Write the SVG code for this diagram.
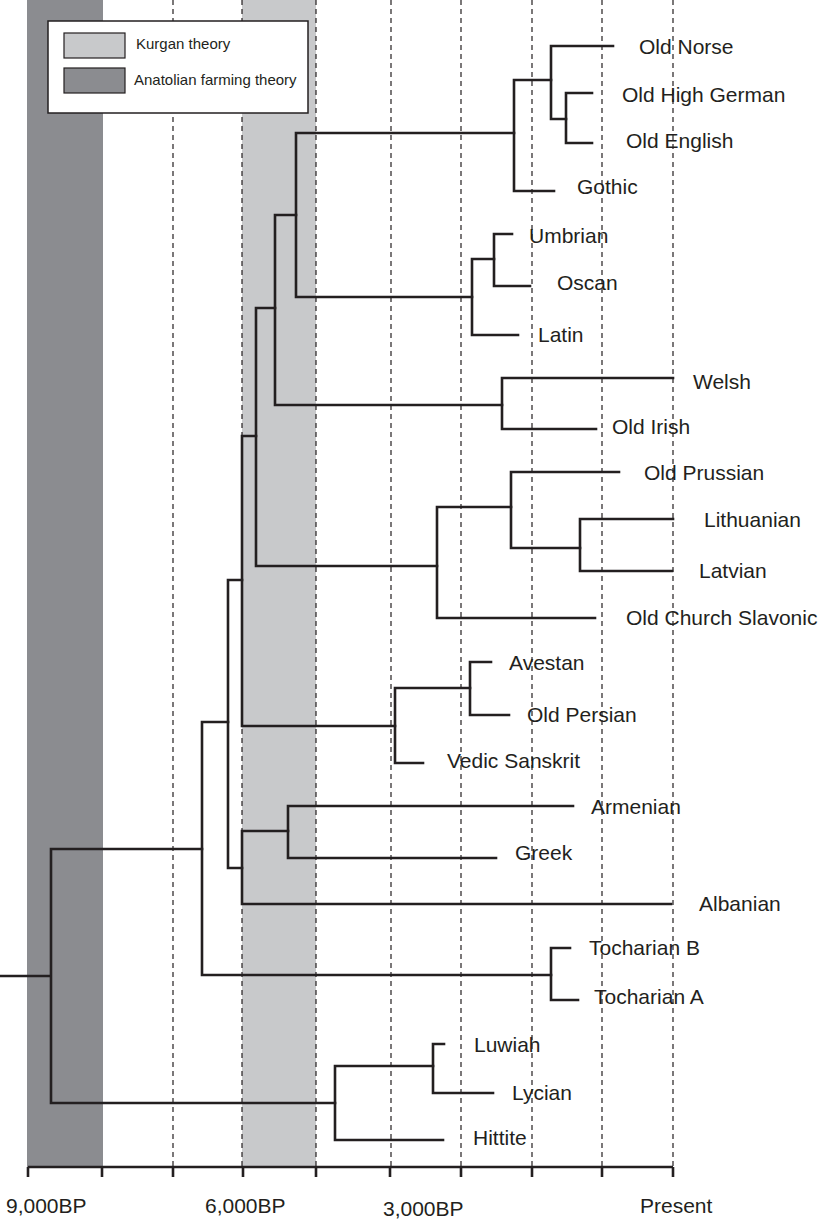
<svg xmlns="http://www.w3.org/2000/svg" width="822" height="1219" viewBox="0 0 822 1219">
<style>
.lbl{font-family:"Liberation Sans",Arial,sans-serif;font-size:21px;fill:#231f20}
.leg{font-family:"Liberation Sans",Arial,sans-serif;font-size:15px;fill:#231f20}
.tree{fill:none;stroke:#231f20;stroke-width:2.6;stroke-linecap:square;stroke-linejoin:miter}
.grid{stroke:#231f20;stroke-width:1.2;stroke-dasharray:5,4}
.axis{fill:none;stroke:#231f20;stroke-width:2.6}
</style>
<rect width="822" height="1219" fill="#ffffff"/>
<g id="bands">
<rect x="27" y="0" width="76" height="1167" fill="#8b8c90"/>
<rect x="242" y="0" width="74" height="1167" fill="#c8c9cb"/>
</g>
<g id="grid">
<line class="grid" x1="173" y1="0" x2="173" y2="1167"/>
<line class="grid" x1="242" y1="0" x2="242" y2="1167"/>
<line class="grid" x1="316" y1="0" x2="316" y2="1167"/>
<line class="grid" x1="391" y1="0" x2="391" y2="1167"/>
<line class="grid" x1="461" y1="0" x2="461" y2="1167"/>
<line class="grid" x1="532" y1="0" x2="532" y2="1167"/>
<line class="grid" x1="602" y1="0" x2="602" y2="1167"/>
<line class="grid" x1="673" y1="0" x2="673" y2="1167"/>
</g>
<g id="legend">
<rect x="48" y="21" width="260" height="92" fill="#ffffff" stroke="#231f20" stroke-width="1.5"/>
<rect x="64" y="33" width="61" height="25" fill="#c8c9cb" stroke="#231f20" stroke-width="1.2"/>
<rect x="64" y="68" width="61" height="25" fill="#8b8c90" stroke="#231f20" stroke-width="1.2"/>
<text class="leg" x="136" y="49">Kurgan theory</text>
<text class="leg" x="134" y="85">Anatolian farming theory</text>
</g>
<g id="connectors">
<path class="tree" d="M0,976 H51 M51,849 V1103 M51,849 H202 M51,1103 H335"/>
<path class="tree" d="M202,722 V975 M202,722 H228 M202,975 H551"/>
<path class="tree" d="M228,580 V868 M228,580 H242 M228,868 H242"/>
<path class="tree" d="M242,436 V726 M242,436 H256 M242,726 H395"/>
<path class="tree" d="M242,831 V904 M242,831 H288 M242,904 H671"/>
<path class="tree" d="M256,308 V566 M256,308 H275 M256,566 H437"/>
<path class="tree" d="M275,215 V405 M275,215 H296 M275,405 H502"/>
<path class="tree" d="M296,133 V297 M296,133 H514 M296,297 H472"/>
<path class="tree" d="M514,80 V191 M514,80 H551 M514,191 H554"/>
<path class="tree" d="M551,46 V119 M551,46 H613 M551,119 H566"/>
<path class="tree" d="M566,93 V143 M566,93 H592 M566,143 H592"/>
<path class="tree" d="M472,259 V335 M472,259 H494 M472,335 H518"/>
<path class="tree" d="M494,234 V286 M494,234 H512 M494,286 H530"/>
<path class="tree" d="M502,378 V429 M502,378 H673 M502,429 H596"/>
<path class="tree" d="M437,507 V618 M437,507 H511 M437,618 H595"/>
<path class="tree" d="M511,472 V548 M511,472 H619 M511,548 H580"/>
<path class="tree" d="M580,519 V571 M580,519 H673 M580,571 H672"/>
<path class="tree" d="M395,688 V763 M395,688 H470 M395,763 H423"/>
<path class="tree" d="M470,662 V715 M470,662 H491 M470,715 H509"/>
<path class="tree" d="M288,806 V858 M288,806 H573 M288,858 H496"/>
<path class="tree" d="M551,948 V1000 M551,948 H570 M551,1000 H578"/>
<path class="tree" d="M335,1066 V1140 M335,1066 H433 M335,1140 H443"/>
<path class="tree" d="M433,1044 V1093 M433,1044 H444 M433,1093 H493"/>
</g>
<g id="n-old-norse"><text class="lbl" x="639" y="54">Old Norse</text></g>
<g id="n-old-high-german"><text class="lbl" x="622" y="102">Old High German</text></g>
<g id="n-old-english"><text class="lbl" x="626" y="148">Old English</text></g>
<g id="n-gothic"><text class="lbl" x="577" y="194">Gothic</text></g>
<g id="n-umbrian"><text class="lbl" x="529" y="243">Umbrian</text></g>
<g id="n-oscan"><text class="lbl" x="557" y="290">Oscan</text></g>
<g id="n-latin"><text class="lbl" x="538" y="342">Latin</text></g>
<g id="n-welsh"><text class="lbl" x="693" y="389">Welsh</text></g>
<g id="n-old-irish"><text class="lbl" x="612" y="434">Old Irish</text></g>
<g id="n-old-prussian"><text class="lbl" x="644" y="480">Old Prussian</text></g>
<g id="n-lithuanian"><text class="lbl" x="704" y="527">Lithuanian</text></g>
<g id="n-latvian"><text class="lbl" x="699" y="578">Latvian</text></g>
<g id="n-old-church-slavonic"><text class="lbl" x="626" y="625">Old Church Slavonic</text></g>
<g id="n-avestan"><text class="lbl" x="509" y="670">Avestan</text></g>
<g id="n-old-persian"><text class="lbl" x="527" y="722">Old Persian</text></g>
<g id="n-vedic-sanskrit"><text class="lbl" x="447" y="768">Vedic Sanskrit</text></g>
<g id="n-armenian"><text class="lbl" x="591" y="814">Armenian</text></g>
<g id="n-greek"><text class="lbl" x="515" y="860">Greek</text></g>
<g id="n-albanian"><text class="lbl" x="699" y="911">Albanian</text></g>
<g id="n-tocharian-b"><text class="lbl" x="589" y="955">Tocharian B</text></g>
<g id="n-tocharian-a"><text class="lbl" x="594" y="1004">Tocharian A</text></g>
<g id="n-luwiah"><text class="lbl" x="474" y="1052">Luwiah</text></g>
<g id="n-lycian"><text class="lbl" x="512" y="1100">Lycian</text></g>
<g id="n-hittite"><text class="lbl" x="473" y="1145">Hittite</text></g>
<g id="axis">
<path class="axis" d="M28,1167 H673 M28,1167 V1177 M102,1167 V1177 M173,1167 V1177 M243,1167 V1177 M316,1167 V1177 M390,1167 V1177 M461,1167 V1177 M532,1167 V1177 M602,1167 V1177 M673,1167 V1177"/>
<text class="lbl" x="6" y="1213">9,000BP</text>
<text class="lbl" x="205" y="1213">6,000BP</text>
<text class="lbl" x="383" y="1216">3,000BP</text>
<text class="lbl" x="640" y="1213">Present</text>
</g>
</svg>
